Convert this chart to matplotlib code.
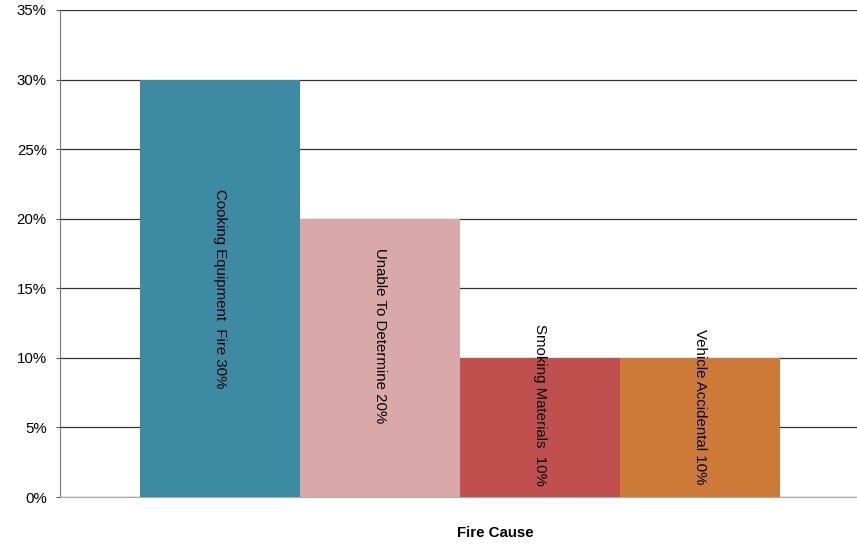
import matplotlib
matplotlib.use("Agg")
import matplotlib.pyplot as plt
from matplotlib.ticker import FuncFormatter

plt.rcParams["font.family"] = ["Liberation Sans", "DejaVu Sans"]

causes = ["Cooking Equipment  Fire", "Unable To Determine", "Smoking Materials ", "Vehicle Accidental"]
shares = [30, 20, 10, 10]
colors = ["#3d8ba3", "#d9a9a9", "#c0504d", "#cd7a38"]
# where each label's centre sits, as a fraction of its bar's height
label_pos = [0.50, 0.58, 0.66, 0.65]

fig = plt.figure(figsize=(8.57, 5.46), dpi=100)
ax = fig.add_axes([0.070, 0.0897, 0.930, 0.892])

xs = list(range(len(causes)))
ax.bar(xs, shares, width=1.0, color=colors, zorder=3)
for x, name, v, f in zip(xs, causes, shares, label_pos):
    ax.text(x, v * f, f"{name} {v}%", rotation=-90, ha="center", va="center",
            fontsize=10.8, color="black", zorder=4)

ax.set_xlim(-1.0, 3.98)
ax.set_ylim(0, 35)
ax.set_yticks(range(0, 36, 5))
ax.yaxis.set_major_formatter(FuncFormatter(lambda v, _: f"{v:.0f}%"))
ax.tick_params(axis="y", labelsize=10.8, length=3, color="#555555", pad=6.5)
ax.set_xticks([])
ax.grid(axis="y", color="#333333", linewidth=0.9, zorder=1)

for s in ("top", "right"):
    ax.spines[s].set_visible(False)
ax.spines["left"].set_color("#777777")
ax.spines["bottom"].set_color("#aaaaaa")
ax.spines["bottom"].set_zorder(5)

ax.set_xlabel("Fire Cause", fontsize=10.8, fontweight="bold")
ax.xaxis.set_label_coords(0.546, -0.059)

fig.savefig("out.png", dpi=100)
